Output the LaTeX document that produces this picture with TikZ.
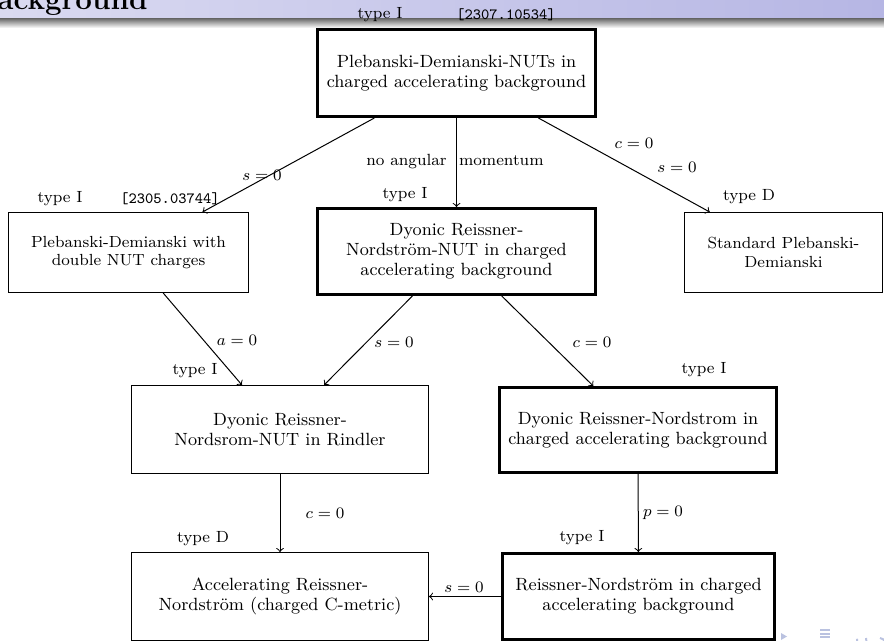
\documentclass[tikz,border=0pt]{standalone}
\usetikzlibrary{calc}
\definecolor{bandL}{RGB}{218,218,241}
\definecolor{bandR}{RGB}{182,182,228}
\definecolor{navc}{RGB}{186,194,224}
\begin{document}
\begin{tikzpicture}[x=0.5pt,y=-0.5pt,
  box/.style={draw, inner sep=0pt, align=center, line width=0.5pt,
    font=\fontsize{8.85}{9.9}\selectfont},
  thickbox/.style={box, line width=1.6pt},
  sidebox/.style={box, font=\fontsize{8.05}{9.3}\selectfont},
  lbl/.style={inner sep=0pt, font=\fontsize{8.1}{9.5}\selectfont},
  reflbl/.style={inner sep=0pt, font=\fontsize{7.8}{9.5}\selectfont\ttfamily},
  conn/.style={->, line width=0.5pt}]
\useasboundingbox (0,0) rectangle (884,641);
\clip (0,0) rectangle (884,641);
% header band
\fill[left color=bandL, right color=bandR] (0,0) rectangle (884,19);
\shade[top color=black!55, bottom color=white] (0,19) rectangle (884,28);
\node[anchor=base west, inner sep=0pt, font=\fontsize{14.8}{16}\selectfont\bfseries] (title) at (-3,10) {ackground};

% boxes
\node[thickbox, minimum width=138.9pt, minimum height=43.4pt] (top) at (456.5,73)
  {Plebanski-Demianski-NUTs in\\charged accelerating background};
\node[sidebox, minimum width=120pt, minimum height=40pt] (left) at (128.5,252.5)
  {Plebanski-Demianski with\\double NUT charges};
\node[thickbox, minimum width=138.9pt, minimum height=42.9pt] (mid) at (456.5,251.5)
  {Dyonic Reissner-\\Nordstr\"om-NUT in charged\\accelerating background};
\node[sidebox, minimum width=99pt, minimum height=40pt] (right) at (783.5,252.5)
  {Standard Plebanski-\\Demianski};
\node[box, minimum width=148.5pt, minimum height=44pt] (rl) at (280,429.5)
  {Dyonic Reissner-\\Nordsrom-NUT in Rindler};
\node[thickbox, minimum width=138.4pt, minimum height=42.4pt] (rr) at (638,430)
  {Dyonic Reissner-Nordstrom in\\charged accelerating background};
\node[box, minimum width=148.5pt, minimum height=44pt] (bl) at (280,596.5)
  {Accelerating Reissner-\\Nordstr\"om (charged C-metric)};
\node[thickbox, minimum width=135.9pt, minimum height=42.9pt] (br) at (638.5,596.5)
  {Reissner-Nordstr\"om in charged\\accelerating background};

% connectors
\draw[conn] (top) -- (left);
\draw[conn] (top) -- (mid);
\draw[conn] (top) -- (right);
\draw[conn] (left) -- (rl);
\draw[conn] (mid) -- (rl);
\draw[conn] (mid) -- (rr);
\draw[conn] (rl) -- (bl);
\draw[conn] (rr) -- (br);
\draw[conn] (br) -- (bl);

% labels
\node[lbl] (tTop) at (380,15) {type I};
\node[reflbl] (rTop) at (506,15) {[2307.10534]};
\node[lbl] (tLeft) at (60,199) {type I};
\node[reflbl] (rLeft) at (170,199) {[2305.03744]};
\node[lbl] (sA) at (262,175) {$s=0$};
\node[lbl] (noang) at (455,162) {no angular\hspace{3.3pt} momentum};
\node[lbl] (tMid) at (405,195) {type I};
\node[lbl] (cA) at (634,143) {$c=0$};
\node[lbl] (sB) at (677,167) {$s=0$};
\node[lbl] (tRight) at (749,197) {type D};
\node[lbl] (aA) at (237,340) {$a=0$};
\node[lbl] (tRL) at (195,371) {type I};
\node[lbl] (sC) at (394,342) {$s=0$};
\node[lbl] (cB) at (592,342) {$c=0$};
\node[lbl] (tRR) at (704,370) {type I};
\node[lbl] (cC) at (325,513) {$c=0$};
\node[lbl] (tBL) at (203,539) {type D};
\node[lbl] (sD) at (464,587) {$s=0$};
\node[lbl] (pA) at (663,513) {$p=0$};
\node[lbl] (tBR) at (582,538) {type I};

% navigation symbols
\fill[navc] (781,633) -- (787,636.5) -- (781,640) -- cycle;
\foreach \yy in {630,633.5,637}
  \draw[navc, line width=1pt] (820,\yy) -- (830,\yy);
\draw[navc, line width=1pt] (866,638) arc (-30:200:5);
\draw[navc, line width=1pt] (880,638) arc (-90:160:5);
\end{tikzpicture}
\end{document}
